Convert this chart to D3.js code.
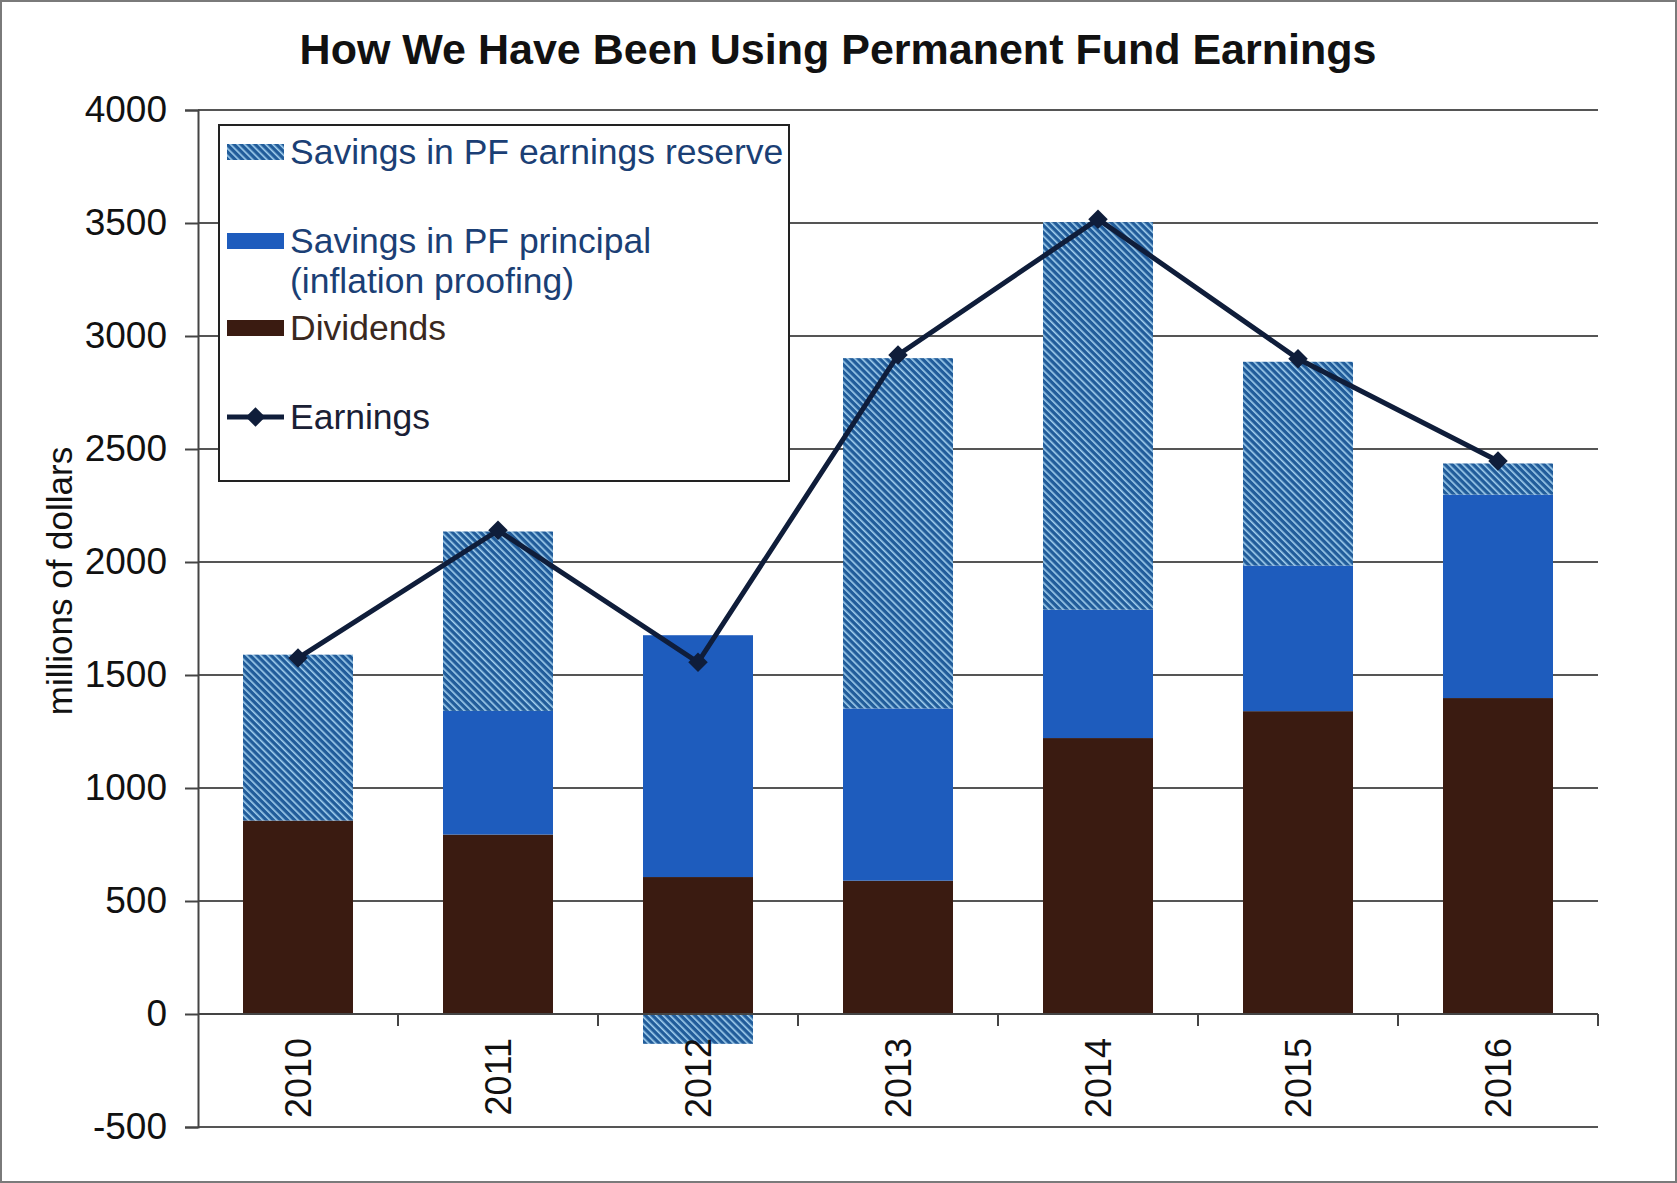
<!DOCTYPE html>
<html>
<head>
<meta charset="utf-8">
<script src="https://cdn.jsdelivr.net/npm/d3@7"></script>
<style>
  body { margin: 0; background: #fff; }
  svg { display: block; font-family: "Liberation Sans", Arial, sans-serif; }
</style>
</head>
<body>
<div id="chart"></div>
<script>
// values (millions of dollars)
var years = ['2010', '2011', '2012', '2013', '2014', '2015', '2016'];
var dividends = [856, 794, 606, 590, 1221, 1340, 1398];
var principal = [0, 547, 1070, 762, 568, 644, 900];
var reserve = [734, 794, -132, 1550, 1715, 902, 138];
var earnings = [1575, 2140, 1556, 2916, 3517, 2899, 2447];
var yTicks = [-500, 0, 500, 1000, 1500, 2000, 2500, 3000, 3500, 4000];

var width = 1677, height = 1183;
var x0 = 198, x1 = 1598, yTop = 110, yBot = 1127;

var svg = d3.select('#chart').append('svg')
  .attr('width', width)
  .attr('height', height);

// hatch for the reserve series
var defs = svg.append('defs');
var pat = defs.append('pattern')
  .attr('id', 'hatch')
  .attr('patternUnits', 'userSpaceOnUse')
  .attr('width', 5).attr('height', 5)
  .attr('patternTransform', 'rotate(-45)');
pat.append('rect').attr('width', 5).attr('height', 5).attr('fill', '#215c9a');
pat.append('rect').attr('x', 0).attr('width', 1.6).attr('height', 5).attr('fill', '#a2cfee');

svg.append('rect')
  .attr('x', 1).attr('y', 1)
  .attr('width', width - 2).attr('height', height - 2)
  .attr('fill', '#fff')
  .attr('stroke', '#7a7a7a')
  .attr('stroke-width', 2);

var x = d3.scaleBand()
  .domain(years)
  .range([x0, x1])
  .paddingInner(0.45)
  .paddingOuter(0.225);

var y = d3.scaleLinear()
  .domain([-500, 4000])
  .range([yBot, yTop]);

// gridlines
svg.append('g')
  .selectAll('line')
  .data(yTicks)
  .enter()
  .append('line')
  .attr('x1', x0).attr('x2', x1)
  .attr('y1', d => y(d)).attr('y2', d => y(d))
  .attr('stroke', '#555')
  .attr('stroke-width', 2);

// y axis
var yAxis = svg.append('g')
  .attr('transform', 'translate(' + x0 + ',0)')
  .call(d3.axisLeft(y).tickValues(yTicks).tickSize(13).tickPadding(18).tickFormat(d => String(d)));
yAxis.select('.domain').attr('stroke', '#444').attr('stroke-width', 2);
yAxis.selectAll('.tick line').attr('stroke', '#444').attr('stroke-width', 2);
yAxis.selectAll('text')
  .attr('fill', '#111')
  .style('font-size', '37px')
  .style('font-family', '"Liberation Sans", Arial, sans-serif');

// stacked bars
var table = years.map(function(yr, i) {
  return { year: yr, dividends: dividends[i], principal: principal[i], reserve: reserve[i] };
});
var stack = d3.stack()
  .keys(['dividends', 'principal', 'reserve'])
  .offset(d3.stackOffsetDiverging);
var fills = { dividends: '#3a1b11', principal: '#1e5cbd', reserve: 'url(#hatch)' };

svg.append('g')
  .selectAll('g')
  .data(stack(table))
  .enter()
  .append('g')
  .attr('fill', d => fills[d.key])
  .selectAll('rect')
  .data(d => d)
  .enter()
  .append('rect')
  .attr('x', d => x(d.data.year))
  .attr('width', x.bandwidth())
  .attr('y', d => y(Math.max(d[0], d[1])))
  .attr('height', d => Math.abs(y(d[0]) - y(d[1])));

// category axis at zero
var xAxis = svg.append('g')
  .attr('transform', 'translate(0,' + y(0) + ')');
xAxis.append('line')
  .attr('x1', x0).attr('x2', x1)
  .attr('stroke', '#444').attr('stroke-width', 2);
xAxis.selectAll('.sep')
  .data(years)
  .enter()
  .append('line')
  .attr('class', 'sep')
  .attr('x1', d => x(d) + x.bandwidth() / 2 + x.step() / 2)
  .attr('x2', d => x(d) + x.bandwidth() / 2 + x.step() / 2)
  .attr('y1', 0).attr('y2', 12)
  .attr('stroke', '#444').attr('stroke-width', 2);
xAxis.selectAll('text')
  .data(years)
  .enter()
  .append('text')
  .attr('transform', d => 'translate(' + (x(d) + x.bandwidth() / 2) + ',24) rotate(-90)')
  .attr('text-anchor', 'end')
  .attr('dy', '0.35em')
  .attr('fill', '#111')
  .style('font-size', '36px')
  .text(d => d);

// earnings line
var line = d3.line()
  .x((d, i) => x(years[i]) + x.bandwidth() / 2)
  .y(d => y(d));
svg.append('path')
  .datum(earnings)
  .attr('d', line)
  .attr('fill', 'none')
  .attr('stroke', '#0f1d3a')
  .attr('stroke-width', 5);
svg.append('g')
  .selectAll('path')
  .data(earnings)
  .enter()
  .append('path')
  .attr('d', d3.symbol().type(d3.symbolSquare).size(190))
  .attr('transform', (d, i) => 'translate(' + (x(years[i]) + x.bandwidth() / 2) + ',' + y(d) + ') rotate(45)')
  .attr('fill', '#0f1d3a');

// title
svg.append('text')
  .attr('x', 838).attr('y', 64)
  .attr('text-anchor', 'middle')
  .attr('fill', '#111')
  .style('font-size', '43px')
  .style('font-weight', 'bold')
  .text('How We Have Been Using Permanent Fund Earnings');

// y label
svg.append('text')
  .attr('transform', 'translate(60,581) rotate(-90)')
  .attr('text-anchor', 'middle')
  .attr('dy', '0.35em')
  .attr('fill', '#111')
  .style('font-size', '35px')
  .text('millions of dollars');

// legend
var legend = svg.append('g');
legend.append('rect')
  .attr('x', 219).attr('y', 125)
  .attr('width', 570).attr('height', 356)
  .attr('fill', '#fff')
  .attr('stroke', '#222')
  .attr('stroke-width', 2);

var legendItems = [
  { lines: ['Savings in PF earnings reserve'], fill: 'url(#hatch)', color: '#1b3f75', y: 152 },
  { lines: ['Savings in PF principal', '(inflation proofing)'], fill: '#1e5cbd', color: '#1b3f75', y: 241 },
  { lines: ['Dividends'], fill: '#3a1b11', color: '#3a2820', y: 328 },
  { lines: ['Earnings'], fill: null, color: '#1a2035', y: 417 }
];
legendItems.forEach(function(item) {
  if (item.fill) {
    legend.append('rect')
      .attr('x', 227).attr('y', item.y - 8)
      .attr('width', 57).attr('height', 16)
      .attr('fill', item.fill);
  } else {
    legend.append('line')
      .attr('x1', 227).attr('x2', 284)
      .attr('y1', item.y).attr('y2', item.y)
      .attr('stroke', '#0f1d3a').attr('stroke-width', 5);
    legend.append('path')
      .attr('d', d3.symbol().type(d3.symbolSquare).size(190))
      .attr('transform', 'translate(255.5,' + item.y + ') rotate(45)')
      .attr('fill', '#0f1d3a');
  }
  item.lines.forEach(function(t, j) {
    legend.append('text')
      .attr('x', 290).attr('y', item.y + 12 + j * 40)
      .attr('fill', item.color)
      .style('font-size', '35.5px')
      .text(t);
  });
});
</script>
</body>
</html>
